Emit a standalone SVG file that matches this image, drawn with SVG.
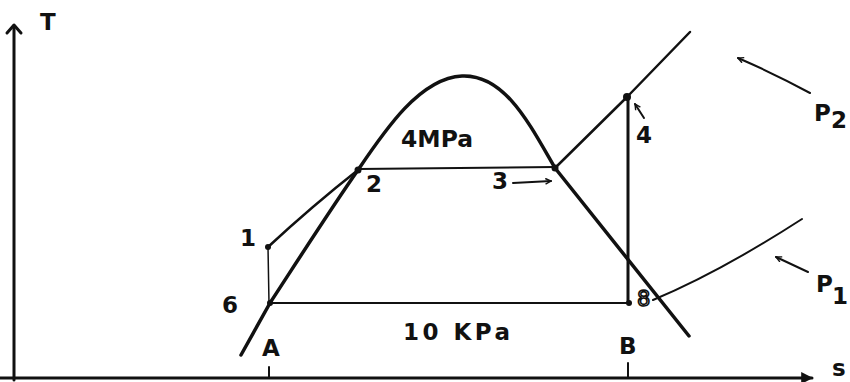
<svg xmlns="http://www.w3.org/2000/svg" width="850" height="382" viewBox="0 0 850 382">
<style>
.lbl{font-family:"DejaVu Sans","Liberation Sans",sans-serif;font-weight:bold;font-size:23px;fill:#111}
.ln{fill:none;stroke:#111;stroke-linecap:round;stroke-linejoin:round}
.dot{fill:#111}
</style>
<defs>
<marker id="open" viewBox="0 0 10 10" refX="9" refY="5" markerWidth="7" markerHeight="7" orient="auto" markerUnits="userSpaceOnUse">
<path d="M1,1 L9,5 L1,9" fill="none" stroke="#111" stroke-width="2"/>
</marker>
<marker id="fill" viewBox="0 0 10 10" refX="9" refY="5" markerWidth="12" markerHeight="12" orient="auto" markerUnits="userSpaceOnUse">
<path d="M0,0 L10,5 L0,10 Z" fill="#111"/>
</marker>
</defs>
<rect width="850" height="382" fill="#fff"/>
<g id="axes">
<line class="ln" x1="14" y1="380" x2="14" y2="27" stroke-width="3"/>
<path class="ln" d="M7,33 L14,25 L21,33" stroke-width="3"/>
<line class="ln" x1="0" y1="378" x2="812" y2="378" stroke-width="3" marker-end="url(#fill)"/>
<line class="ln" x1="269" y1="367" x2="269" y2="378" stroke-width="2"/>
<line class="ln" x1="628" y1="363" x2="628" y2="378" stroke-width="2"/>
<text class="lbl" x="40" y="30">T</text>
<text class="lbl" x="832" y="376" font-size="21">s</text>
<text class="lbl" x="262" y="356" font-size="20">A</text>
<text class="lbl" x="619" y="354" font-size="20">B</text>
</g>
<g id="dome">
<path class="ln" stroke-width="3.5" d="M241,355 L270,303 C300,257 330,210 358,170 C385,130 420,78 462,76 C505,74 530,125 555,168 L689,336"/>
<text class="lbl" x="401" y="147" textLength="72" lengthAdjust="spacingAndGlyphs">4MPa</text>
</g>
<g id="connectors">
<path class="ln" stroke-width="2.5" d="M268,247 C295,222 330,192 358,170"/>
<line class="ln" x1="268" y1="247" x2="269" y2="303" stroke-width="1.5"/>
<line class="ln" x1="358" y1="169" x2="555" y2="167" stroke-width="2"/>
<path class="ln" stroke-width="2.5" d="M555,168 L627,97 L690,32"/>
<line class="ln" x1="628" y1="97" x2="628" y2="303" stroke-width="3"/>
<line class="ln" x1="270" y1="303" x2="628" y2="303" stroke-width="2"/>
<path class="ln" stroke-width="2" d="M653,300 Q720,272 802,219"/>
<line class="ln" x1="513" y1="183" x2="551" y2="181" stroke-width="2" marker-end="url(#open)"/>
<line class="ln" x1="644" y1="118" x2="635" y2="104" stroke-width="2" marker-end="url(#open)"/>
<path class="ln" stroke-width="2" d="M810,93 Q775,74 738,58" marker-end="url(#open)"/>
<line class="ln" x1="808" y1="272" x2="776" y2="257" stroke-width="2" marker-end="url(#open)"/>
<text class="lbl" x="403" y="340" textLength="107" lengthAdjust="spacing">10 KPa</text>
</g>
<g id="p1"><circle class="dot" cx="268" cy="247" r="3"/><text class="lbl" x="240" y="246">1</text></g>
<g id="p2"><circle class="dot" cx="358" cy="170" r="3.5"/><text class="lbl" x="366" y="192">2</text></g>
<g id="p3"><circle class="dot" cx="555" cy="168" r="3.5"/><text class="lbl" x="492" y="189">3</text></g>
<g id="p4"><circle class="dot" cx="627" cy="97" r="4"/><text class="lbl" x="636" y="143">4</text></g>
<g id="p6"><circle class="dot" cx="270" cy="303" r="3"/><text class="lbl" x="222" y="313">6</text></g>
<g id="p8"><circle class="dot" cx="629" cy="303" r="3"/><text x="637" y="306" font-family="DejaVu Sans,sans-serif" font-size="21" fill="#fff" stroke="#111" stroke-width="1.6">8</text></g>
<g id="labelP2"><text class="lbl" x="814" y="121" font-size="25">P</text><text class="lbl" x="831" y="128" font-size="20">2</text></g>
<g id="labelP1"><text class="lbl" x="816" y="292" font-size="25">P</text><text class="lbl" x="832" y="304" font-size="18">1</text></g>
</svg>
